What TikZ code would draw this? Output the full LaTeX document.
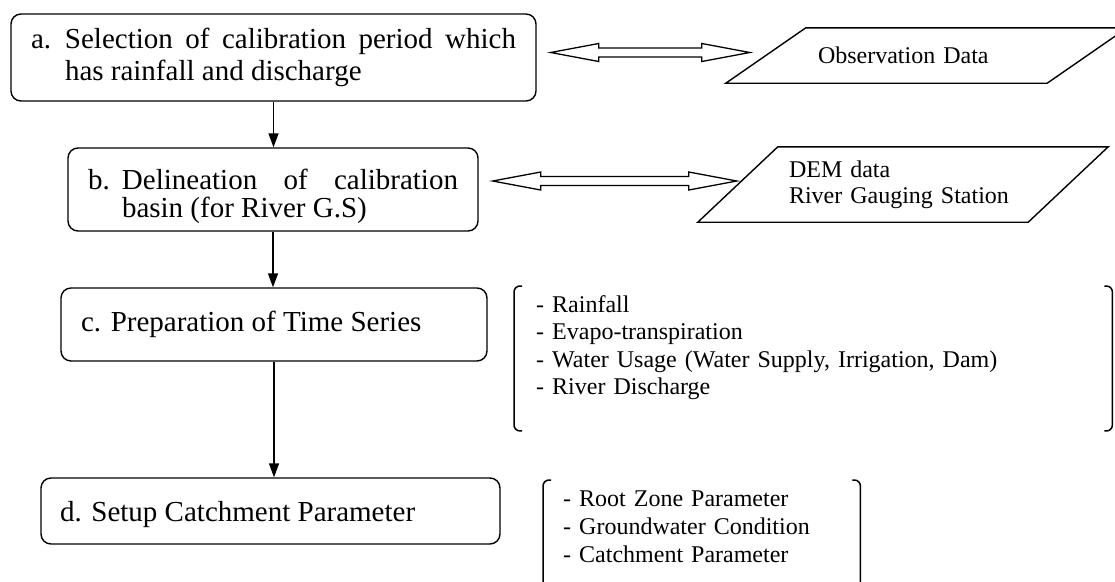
\documentclass[tikz,border=0pt]{standalone}
\usepackage{fontspec}
\setmainfont{Liberation Serif}
\usepackage{tikz}
\usetikzlibrary{arrows.meta,calc}

\newlength{\stepind}
\setlength{\stepind}{34pt}
\newcommand{\steptext}[2]{\hangindent=\stepind\hangafter=1\makebox[\stepind][l]{#1}#2\par}
\newcommand{\twoway}[2]{\draw[twowayline] let \p1=(#1), \p2=(#2) in
  (\x1,\y2) -- (\x1+48pt,\y2+9pt) -- (\x1+48pt,\y2+4.5pt) -- (\x2-48pt,\y2+4.5pt) -- (\x2-48pt,\y2+9pt)
  -- (\x2,\y2) -- (\x2-48pt,\y2-9pt) -- (\x2-48pt,\y2-4.5pt) -- (\x1+48pt,\y2-4.5pt) -- (\x1+48pt,\y2-9pt) -- cycle;}

\tikzset{
  stepbox/.style={draw, line width=1.4pt, rounded corners=10pt, inner xsep=20pt, inner ysep=0pt,
    font=\fontsize{29}{32}\selectfont, align=justify},
  datanode/.style={inner ysep=0pt, font=\fontsize{24}{26}\selectfont, align=left},
  itemlist/.style={inner ysep=0pt, font=\fontsize{24}{27.5}\selectfont, align=left},
  dataline/.style={line width=1.4pt},
  brace/.style={line width=1.5pt, rounded corners=6pt},
  flow/.style={line width=1.4pt, -{Triangle[length=14pt,width=10pt]}},
  twowayline/.style={line width=1.3pt}
}

\begin{document}
\begin{tikzpicture}[x=1pt,y=-1pt]
\path[use as bounding box, clip] (0,0) rectangle (1115,581);

\node[stepbox, text width=485pt, minimum height=87pt] (a) at (273.5,57.5)
  {\steptext{a.}{Selection of calibration period which has rainfall and discharge}};
\node[stepbox, text width=370pt, minimum height=83pt, font=\fontsize{29}{28}\selectfont] (b) at (273,189.5)
  {\steptext{b.}{\rule{0pt}{34pt}Delineation of calibration basin (for River G.S)}};
\node[stepbox, text width=386pt, minimum height=73pt] (c) at (274,324.5)
  {c. Preparation of Time Series};
\node[stepbox, text width=421pt, minimum height=66pt, inner xsep=19pt, text height=24pt, text depth=4pt] (d) at (270.5,511)
  {d. Setup Catchment Parameter};

\node[datanode, text width=217pt, inner xsep=52pt, minimum height=55pt] (obs) at (926.5,55.5)
  {Observation Data};
\node[datanode, text width=228pt, inner xsep=51pt, minimum height=75pt] (dem) at (903,184.5)
  {DEM data\\River Gauging Station};

\node[itemlist, anchor=north west, text width=554pt, inner xsep=22pt, inner ysep=9pt] (tsl) at (514,286)
  {- Rainfall\\- Evapo-transpiration\\- Water Usage (Water Supply, Irrigation, Dam)\\- River Discharge};
\node[itemlist, anchor=north west, text width=277pt, inner xsep=20pt, font=\fontsize{24}{28}\selectfont,
  minimum height=94pt] (cpl) at (543,480)
  {- Root Zone Parameter\\- Groundwater Condition\\- Catchment Parameter};

\draw[dataline] ([xshift=-40pt]obs.south west) -- ([xshift=40pt]obs.north west)
  -- ([xshift=40pt]obs.north east) -- ([xshift=-40pt]obs.south east) -- cycle;
\draw[dataline] ([xshift=-40pt]dem.south west) -- ([xshift=40pt]dem.north west)
  -- ([xshift=40pt]dem.north east) -- ([xshift=-40pt]dem.south east) -- cycle;

\draw[brace] ([xshift=8pt]tsl.north west) -- (tsl.north west) -- ([yshift=-22pt]tsl.south west) -- ++(8,0);
\draw[brace] ([xshift=-8pt]tsl.north east) -- (tsl.north east) -- ([yshift=-22pt]tsl.south east) -- ++(-8,0);
\draw[brace] ([xshift=8pt]cpl.north west) -- (cpl.north west) -- ([yshift=-40pt]cpl.south west) -- ++(8,0);
\draw[brace] ([xshift=-8pt]cpl.north east) -- (cpl.north east) -- ([yshift=-40pt]cpl.south east) -- ++(-8,0);

\draw[flow] (a.south) -- (a.south |- b.north);
\draw[flow] (b.south) -- (b.south |- c.north);
\draw[flow] (c.south) -- (c.south |- d.north);

\twoway{[xshift=14pt]a.east}{[xshift=-16pt,yshift=3pt]obs.west}
\twoway{[xshift=14pt]b.east}{[xshift=-1pt,yshift=3.5pt]dem.west}
\end{tikzpicture}
\end{document}
